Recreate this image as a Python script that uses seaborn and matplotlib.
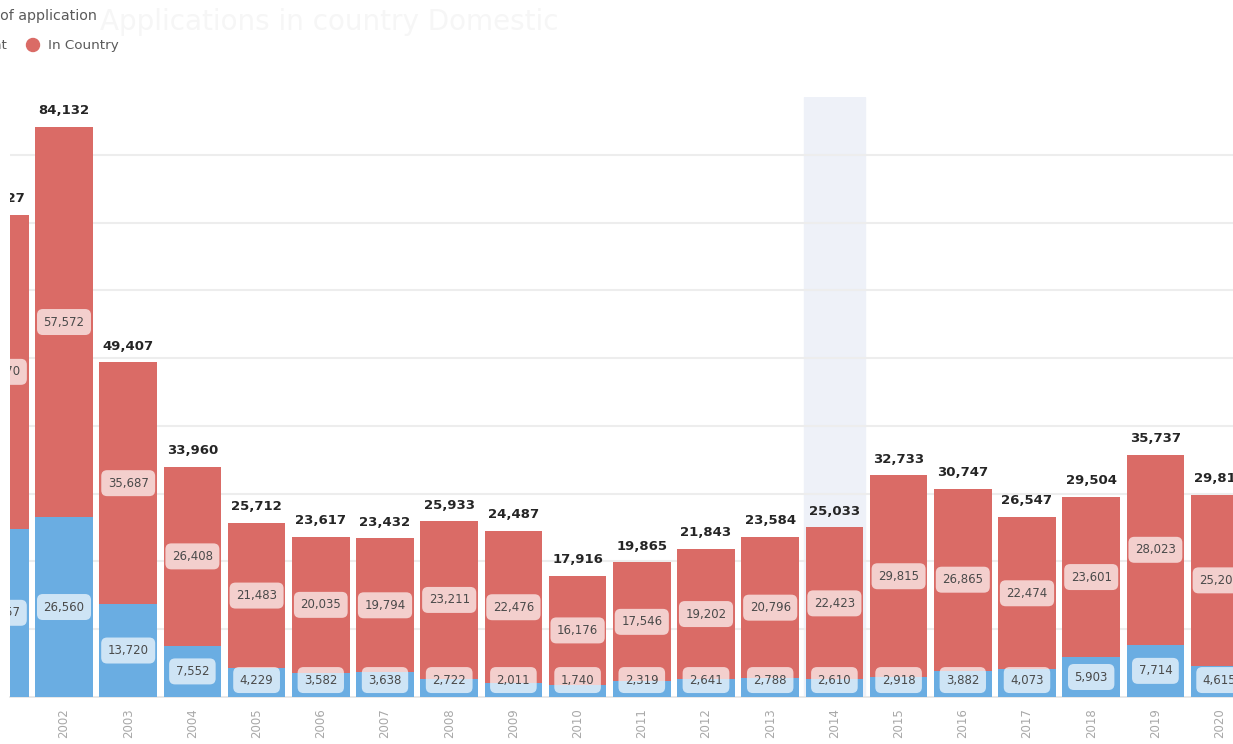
import matplotlib
matplotlib.use("Agg")
import matplotlib.pyplot as plt
import seaborn as sns
import pandas as pd
import numpy as np

years = ["2001", "2002", "2003", "2004", "2005", "2006", "2007", "2008", "2009", "2010",
         "2011", "2012", "2013", "2014", "2015", "2016", "2017", "2018", "2019", "2020"]
offshore = [24857, 26560, 13720, 7552, 4229, 3582, 3638, 2722, 2011, 1740,
            2319, 2641, 2788, 2610, 2918, 3882, 4073, 5903, 7714, 4615]
in_country = [46270, 57572, 35687, 26408, 21483, 20035, 19794, 23211, 22476, 16176,
              17546, 19202, 20796, 22423, 29815, 26865, 22474, 23601, 28023, 25200]
highlight_year = "2014"

RED = "#DA6B66"
BLUE = "#6AADE2"

df = pd.DataFrame({"year": years, "offshore": offshore, "in_country": in_country})
df["total"] = df["offshore"] + df["in_country"]

sns.set_theme(style="white")
plt.rcParams["font.family"] = ["DejaVu Sans"]

fig = plt.figure(figsize=(12.33, 7.44), dpi=100)
W, H = 1233, 744
ax = fig.add_axes([10 / W, 1 - 697 / H, 1223 / W, 600 / H])

hi = years.index(highlight_year)
ax.axvspan(hi - 0.475, hi + 0.475, color="#EEF1F8", zorder=0)

sns.barplot(data=df, x="year", y="total", color=RED, width=0.9, saturation=1,
            ax=ax, zorder=2, linewidth=0)
sns.barplot(data=df, x="year", y="offshore", color=BLUE, width=0.9, saturation=1,
            ax=ax, zorder=3, linewidth=0)

xmin = 1 - 54 / 64.2
ax.set_xlim(xmin, xmin + 1223 / 64.2)
ax.set_ylim(0, 88560)

ax.set_yticks(np.arange(10000, 90000, 10000))
ax.set_yticklabels([])
ax.tick_params(axis="y", length=0)
ax.yaxis.grid(True, color="#EDEDED", linewidth=1.5, zorder=1)
ax.set_axisbelow(True)
ax.xaxis.grid(False)
for s in ["top", "left", "right"]:
    ax.spines[s].set_visible(False)
ax.spines["bottom"].set_color("#E4E4E4")
ax.spines["bottom"].set_linewidth(1.2)
ax.set_xlabel("")
ax.set_ylabel("")
ax.tick_params(axis="x", length=0, pad=8, labelsize=8.5, labelcolor="#A8A8A8")
plt.setp(ax.get_xticklabels(), rotation=90)


def clip(t):
    t.set_clip_box(ax.bbox)
    t.set_clip_on(True)


box = dict(boxstyle="round,pad=0.55,rounding_size=0.5", fc="white", ec="none", alpha=0.68)
min_lbl = 2500
for i, row in df.iterrows():
    t = ax.annotate(f"{row.total:,}", (i, row.total), xytext=(0, 7), textcoords="offset points",
                    ha="center", va="bottom", fontsize=9.5, fontweight="bold", color="#252525",
                    zorder=6, annotation_clip=False)
    clip(t)
    yc = row.offshore + row.in_country / 2
    t = ax.annotate(f"{row.in_country:,}", (i, yc), ha="center", va="center", fontsize=8.5,
                    color="#4A4A4A", zorder=6, bbox=box, annotation_clip=False)
    clip(t)
    yb = max(row.offshore / 2, min_lbl)
    t = ax.annotate(f"{row.offshore:,}", (i, yb), ha="center", va="center", fontsize=8.5,
                    color="#4A4A4A", zorder=6, bbox=box, annotation_clip=False)
    clip(t)

# faint ghost title
fig.text(100 / W, 1 - 22 / H, "Applications in country Domestic", fontsize=20,
         color="#F6F6F6", va="center", ha="left")
# legend (cropped at left edge)
fig.text(97 / W, 1 - 16 / H, "Type of application", fontsize=10.3, color="#5A5A5A",
         ha="right", va="center")
fig.text(7 / W, 1 - 46 / H, "Offshore Applicant", fontsize=9.7, color="#5A5A5A",
         ha="right", va="center")
fig.add_artist(matplotlib.patches.Ellipse((33 / W, 1 - 45 / H), 13 / W, 13 / H,
                                          transform=fig.transFigure, color=RED))
fig.text(48 / W, 1 - 46 / H, "In Country", fontsize=9.7, color="#5A5A5A",
         ha="left", va="center")

fig.savefig("out.png", dpi=100)
